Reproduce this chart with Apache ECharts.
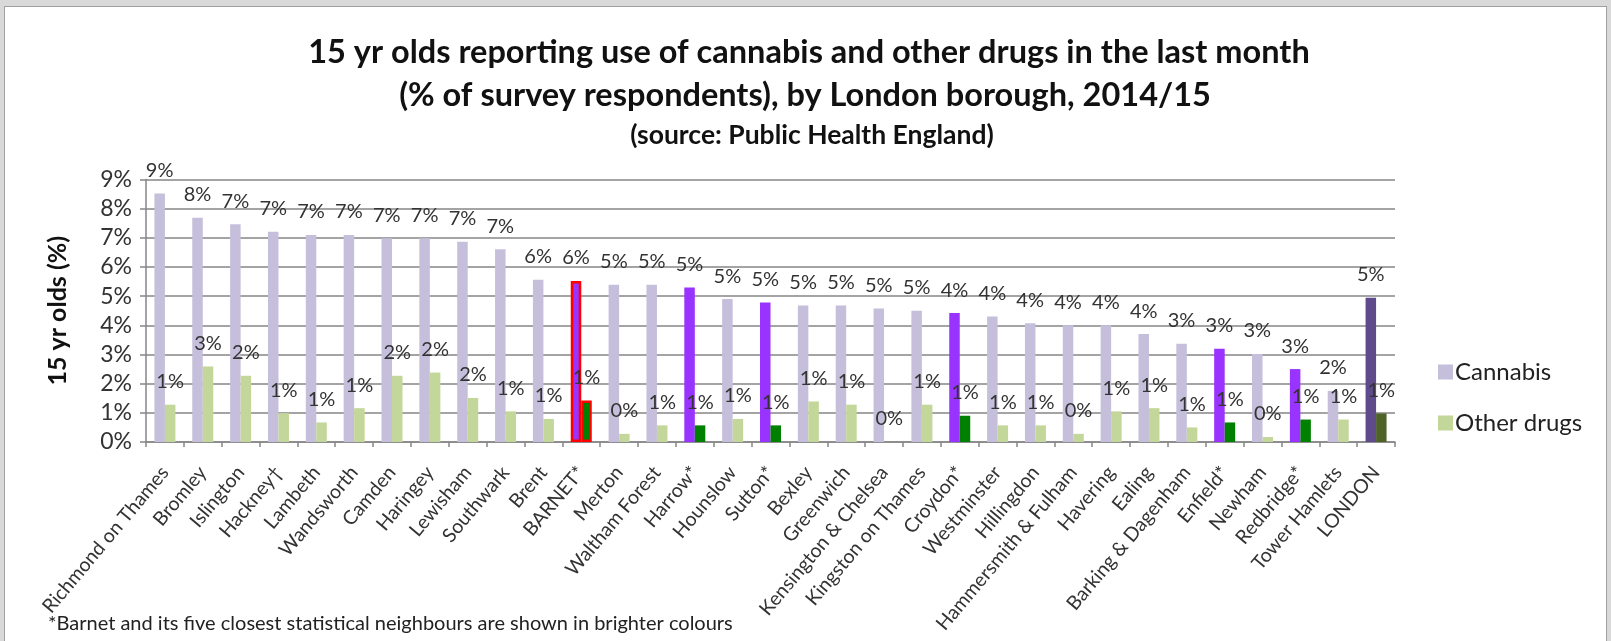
<!DOCTYPE html>
<html>
<head>
<meta charset="utf-8">
<script src="https://cdn.jsdelivr.net/npm/echarts@6/dist/echarts.min.js"></script>
<style>
  html, body { margin: 0; padding: 0; background: #d9d9d9; }
  #frame { position: absolute; left: 4px; top: 6px; width: 1603px; height: 640px; background: #ffffff; border: 1.5px solid #a0a0a0; box-sizing: border-box; }
  #chart { position: absolute; left: 0; top: 0; width: 1611px; height: 641px; }
</style>
</head>
<body>
<div id="frame"></div>
<div id="chart"></div>
<script>
const categories = ["Richmond on Thames","Bromley","Islington","Hackney\u2020","Lambeth","Wandsworth","Camden","Haringey","Lewisham","Southwark","Brent","BARNET*","Merton","Waltham Forest","Harrow*","Hounslow","Sutton*","Bexley","Greenwich","Kensington & Chelsea","Kingston on Thames","Croydon*","Westminster","Hillingdon","Hammersmith & Fulham","Havering","Ealing","Barking & Dagenham","Enfield*","Newham","Redbridge*","Tower Hamlets","LONDON"];
const cannabis = [8.52, 7.69, 7.47, 7.21, 7.10, 7.10, 6.99, 6.99, 6.87, 6.61, 5.56, 5.52, 5.39, 5.39, 5.30, 4.90, 4.78, 4.68, 4.68, 4.58, 4.50, 4.42, 4.30, 4.07, 4.00, 4.00, 3.70, 3.37, 3.20, 3.02, 2.50, 1.75, 4.95];
const otherDrugs = [1.28, 2.59, 2.27, 0.99, 0.67, 1.16, 2.27, 2.38, 1.51, 1.05, 0.79, 1.42, 0.28, 0.57, 0.57, 0.79, 0.57, 1.39, 1.28, 0.00, 1.28, 0.90, 0.57, 0.57, 0.28, 1.05, 1.16, 0.50, 0.67, 0.17, 0.77, 0.77, 0.98];
const neighbours = ["BARNET*","Harrow*","Sutton*","Croydon*","Enfield*","Redbridge*"];
const focus = "BARNET*";
const total = "LONDON";
const yTicks = [0,1,2,3,4,5,6,7,8,9];

const C = {
  cannabis: '#c5bfdb', other: '#c4d79b',
  brightCannabis: '#9933ff', brightOther: '#008000',
  londonCannabis: '#5f4b8b', londonOther: '#4f6228'
};
const FONT = 'Lato';

function items(vals, base, bright, london) {
  return vals.map((v, i) => {
    const name = categories[i];
    let style = { color: base };
    if (neighbours.includes(name)) style = { color: bright };
    if (name === total) style = { color: london };
    if (name === focus) style = { color: bright, borderColor: '#ff0000', borderWidth: 2.5 };
    return { value: v, itemStyle: style };
  });
}

const labelCfg = {
  show: true, position: 'top', distance: 13,
  fontFamily: FONT, fontSize: 20, color: '#333333',
  formatter: p => Math.round(p.value) + '%'
};

const chart = echarts.init(document.getElementById('chart'), null, { renderer: 'canvas' });
chart.setOption({
  backgroundColor: 'transparent',
  animation: false,
  textStyle: { fontFamily: FONT },
  graphic: [
    { type: 'text', style: { text: '15 yr olds reporting use of cannabis and other drugs in the last month', x: 809, y: 53, textAlign: 'center', textVerticalAlign: 'middle', font: 'bold 32.5px Lato', fill: '#111111' } },
    { type: 'text', style: { text: '(% of survey respondents), by London borough, 2014/15', x: 805, y: 96, textAlign: 'center', textVerticalAlign: 'middle', font: 'bold 32.5px Lato', fill: '#111111' } },
    { type: 'text', style: { text: '(source: Public Health England)', x: 812, y: 135, textAlign: 'center', textVerticalAlign: 'middle', font: 'bold 26.5px Lato', fill: '#111111' } },
    { type: 'text', style: { text: '*Barnet and its five closest statistical neighbours are shown in brighter colours', x: 48, y: 624, textAlign: 'left', textVerticalAlign: 'middle', font: '20px Lato', fill: '#222222' } }
  ],
  legend: {
    orient: 'vertical', left: 1433, top: 355, itemWidth: 15, itemHeight: 15, itemGap: 27,
    icon: 'rect',
    textStyle: { fontFamily: FONT, fontSize: 24, color: '#222222', padding: [0, 0, 0, -3] },
    data: ['Cannabis', 'Other drugs']
  },
  grid: { left: 146, right: 216, top: 179.5, bottom: 199, containLabel: false, outerBoundsMode: 'none' },
  xAxis: {
    type: 'category', data: categories,
    axisLine: { lineStyle: { color: '#868686', width: 1.5 } },
    axisTick: { show: true, length: 5, lineStyle: { color: '#868686', width: 1.5 } },
    axisLabel: { interval: 0, rotate: 50, margin: 27,
      fontFamily: FONT, fontSize: 19.5, color: '#333333' }
  },
  yAxis: {
    type: 'value', min: 0, max: 9, interval: 1,
    name: '15 yr olds (%)', nameLocation: 'middle', nameRotate: 90, nameGap: 76,
    nameTextStyle: { fontFamily: FONT, fontSize: 25, fontWeight: 'bold', color: '#111111' },
    axisLine: { show: true, lineStyle: { color: '#868686', width: 1.5 } },
    axisTick: { show: true, length: 6, lineStyle: { color: '#868686', width: 1.5 } },
    axisLabel: { fontFamily: FONT, fontSize: 23, color: '#333333', margin: 14,
      formatter: v => yTicks.includes(v) ? v + '%' : '' },
    splitLine: { lineStyle: { color: '#868686', width: 1.5 } }
  },
  series: [
    { name: 'Cannabis', type: 'bar', barWidth: 10.5, barGap: '0%', itemStyle: { color: C.cannabis },
      label: labelCfg, data: items(cannabis, C.cannabis, C.brightCannabis, C.londonCannabis) },
    { name: 'Other drugs', type: 'bar', barWidth: 10.5, barGap: '0%', itemStyle: { color: C.other },
      label: labelCfg, data: items(otherDrugs, C.other, C.brightOther, C.londonOther) }
  ]
});
</script>
</body>
</html>
